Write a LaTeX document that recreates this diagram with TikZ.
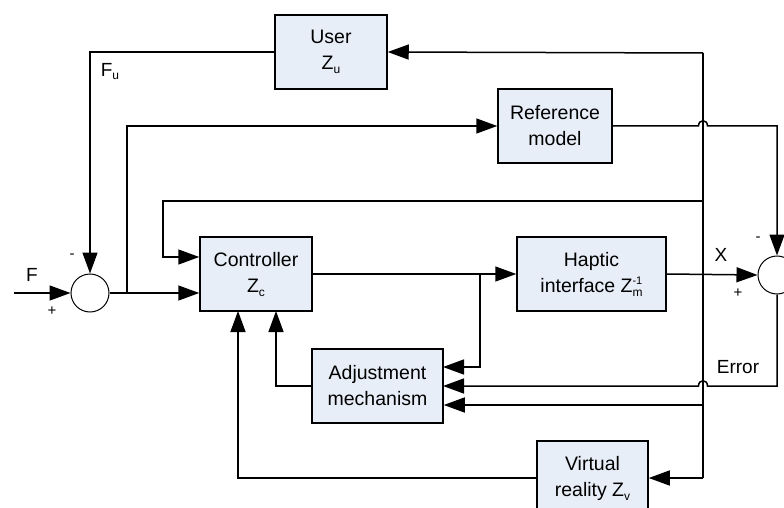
\documentclass[tikz,border=0pt]{standalone}
\usepackage{fontspec}
\setmainfont{Liberation Sans}
\usetikzlibrary{arrows.meta}
\definecolor{boxfill}{RGB}{232,238,248}
\newcommand\zsub[1]{Z\raisebox{-4pt}{\fontsize{12}{12}\selectfont #1}}
\newcommand\zsubsup[2]{Z\rlap{\raisebox{8pt}{\fontsize{11}{11}\selectfont #2}}\raisebox{-4pt}{\fontsize{12}{12}\selectfont #1}}
\begin{document}
\begin{tikzpicture}[x=1pt,y=-1pt,
  blk/.style={draw, line width=1.5pt, fill=boxfill, minimum width=#1, minimum height=74pt,
    align=center, inner sep=0pt, font=\fontsize{19.5}{26}\selectfont},
  sumc/.style={circle, draw, line width=1pt, minimum size=38pt, inner sep=0pt},
  conn/.style={line width=1.5pt},
  arr/.style={conn, -{Triangle[length=21pt,width=15pt]}},
  lbl/.style={font=\fontsize{19}{22}\selectfont, inner sep=0pt},
  sgn/.style={font=\fontsize{15}{18}\selectfont, inner sep=0pt}]
\useasboundingbox (0,0) rectangle (784,508);
\clip (0,0) rectangle (784,508);
\fill[white] (0,0) rectangle (784,508);
% blocks
\node[blk=112pt] (user) at (331,52) {User\\\zsub{u}};
\node[blk=114pt] (ref) at (555,126) {Reference\\model};
\node[blk=112pt] (ctrl) at (256,274) {Controller\\\zsub{c}};
\node[blk=149pt] (hap) at (591.5,274) {Haptic\\interface \zsubsup{m}{-1}};
\node[blk=131pt] (adj) at (377.5,386) {Adjustment\\mechanism};
\node[blk=111pt] (vr) at (592.5,478) {Virtual\\reality \zsub{v}};
\node[sumc] (s1) at (90,293) {};
\node[sumc] (s2) at (777,275) {};
% coordinates
\coordinate (btop) at (703,53);
\coordinate (bbot) at (703,478);
\coordinate (fin) at (14,293);
\coordinate (j1) at (127,293);
\coordinate (j2) at (480,274);
\coordinate (b201) at (703,201);
\coordinate (c257) at (163,257);
\coordinate (a367) at (443,367);
\coordinate (a386) at (443,386);
\coordinate (b405) at (703,405);
\coordinate (c238) at (238,311);
\coordinate (c276) at (276,311);
% connectors
\draw[arr] (user.west) -| (s1.north);
\draw[arr] (fin) -- (s1.west);
\draw[arr] (s1.east) -- (s1.east -| ctrl.west);
\draw[arr] (j1) |- (ref.west);
\draw[arr] (ref.east) -- (698.5,126) .. controls (698.5,119) and (707.5,119) .. (707.5,126) -| (s2.north);
\draw[conn] (btop) -- (bbot);
\draw[arr] (btop) -- (user.east);
\draw[arr] (b201) -| (c257) -- (c257 -| ctrl.west);
\draw[arr] (ctrl.east) -- (hap.west);
\draw[arr] (j2) |- (a367);
\draw[arr] (hap.east) -- (s2.west);
\draw[arr] (s2.south) |- (707.5,386) .. controls (707.5,379) and (698.5,379) .. (698.5,386) -- (a386);
\draw[arr] (b405) -- (b405 -| adj.east);
\draw[arr] (bbot) -- (vr.east);
\draw[arr] (vr.west) -| (c238);
\draw[arr] (adj.west) -| (c276);
% labels
\node[lbl] (lfu) at (110,72) {F\raisebox{-3pt}{\fontsize{12}{12}\selectfont u}};
\node[lbl] (lf) at (32,275) {F};
\node[sgn] (lp1) at (52,311) {+};
\node[sgn] (lm1) at (72,256) {-};
\node[lbl] (lx) at (721,255) {X};
\node[sgn] (lp2) at (738,293) {+};
\node[sgn] (lm2) at (758,239) {-};
\node[lbl] (lerr) at (738,367) {Error};
\end{tikzpicture}
\end{document}
